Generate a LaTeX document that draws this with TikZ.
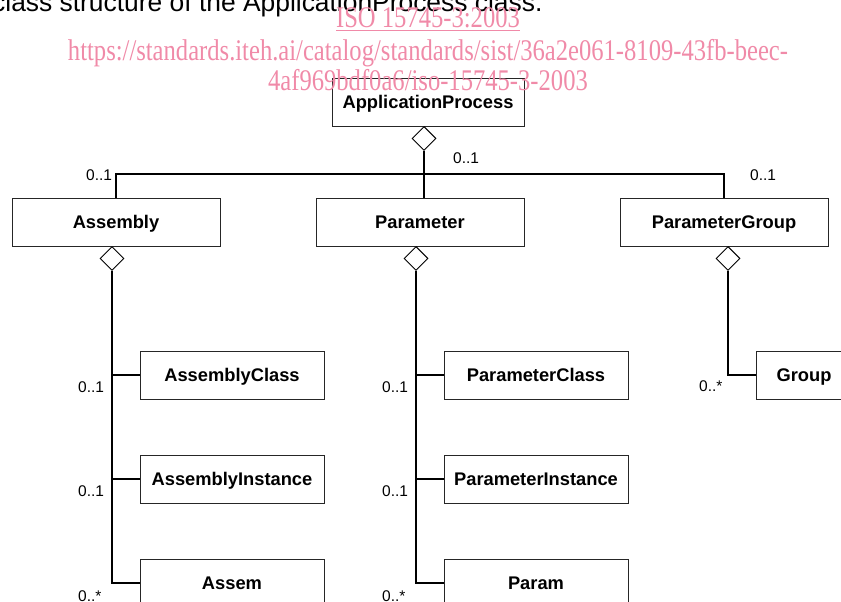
\documentclass[tikz,border=0pt]{standalone}
\usepackage{graphicx}
\usepackage{fontspec}
\setmainfont{Liberation Sans}
\newfontfamily\serifpink{Liberation Serif}
\usetikzlibrary{shapes.geometric}
\definecolor{wmpink}{RGB}{240,138,168}
\begin{document}
\begin{tikzpicture}[x=1pt,y=-1pt,
  cls/.style={draw=black!85, line width=0.9pt, minimum height=48pt, inner sep=0pt,
              text height=13pt, text depth=0pt,
              font=\fontsize{18.3}{20}\selectfont\bfseries},
  agg/.style={diamond, draw=black, line width=0.9pt, aspect=1, minimum width=24pt,
              minimum height=24pt, inner sep=0pt, anchor=north, fill=white},
  conn/.style={line width=1.1pt},
  mult/.style={font=\fontsize{15.5}{17}\selectfont, inner sep=0pt, anchor=base west},
  wm/.style={text=wmpink, inner sep=0pt, anchor=base, font=\serifpink\fontsize{30}{34}\selectfont}]
\clip (0,0) rectangle (841,602);
\useasboundingbox (0,0) rectangle (841,602);

% caption
\node[anchor=base west, inner sep=0pt, font=\fontsize{26.4}{30}\selectfont] (cap) at (-8,12)
  {class structure of the ApplicationProcess class.};

% classes
\node[cls, minimum width=192pt] (ap)  at (428,102) {ApplicationProcess};
\node[cls, minimum width=208pt] (asm) at (116,222) {Assembly};
\node[cls, minimum width=208pt] (par) at (420,222) {Parameter};
\node[cls, minimum width=208pt] (pg)  at (724,222) {ParameterGroup};
\node[cls, minimum width=184pt] (ac)  at (232,375) {AssemblyClass};
\node[cls, minimum width=184pt] (ai)  at (232,479) {AssemblyInstance};
\node[cls, minimum width=184pt] (as)  at (232,583) {Assem};
\node[cls, minimum width=184pt] (pc)  at (536,375) {ParameterClass};
\node[cls, minimum width=184pt] (pi)  at (536,479) {ParameterInstance};
\node[cls, minimum width=184pt] (pp)  at (536,583) {Param};
\node[cls, minimum width=96pt]  (grp) at (804,375) {Group};

% aggregation diamonds
\node[agg] (dap)  at (424,126) {};
\node[agg] (das)  at (112,246) {};
\node[agg] (dpar) at (416,246) {};
\node[agg] (dpg)  at (728,246) {};

% connectors
\coordinate (bus) at (116,174);
\draw[conn] (dap.south) -- (dap.south |- par.north);
\draw[conn] (asm.north) -- (bus) -- (bus -| pg.north) -- (pg.north);
\draw[conn] (das.south) |- (as.west);
\draw[conn] (das.south |- ac.west) -- (ac.west);
\draw[conn] (das.south |- ai.west) -- (ai.west);
\draw[conn] (dpar.south) |- (pp.west);
\draw[conn] (dpar.south |- pc.west) -- (pc.west);
\draw[conn] (dpar.south |- pi.west) -- (pi.west);
\draw[conn] (dpg.south) |- (grp.west);

% multiplicities
\node[mult] (m1)  at (86,180)  {0..1};
\node[mult] (m2)  at (453,163) {0..1};
\node[mult] (m3)  at (750,180) {0..1};
\node[mult] (m4)  at (78,392)  {0..1};
\node[mult] (m5)  at (78,496)  {0..1};
\node[mult] (m6)  at (78,601)  {0..*};
\node[mult] (m7)  at (382,392) {0..1};
\node[mult] (m8)  at (382,496) {0..1};
\node[mult] (m9)  at (382,601) {0..*};
\node[mult] (m10) at (699,391) {0..*};

% watermark
\node[wm] (w1) at (428,28) {\scalebox{0.82}[1]{\underline{ISO 15745-3:2003}}};
\node[wm] (w2) at (428,61) {\scalebox{0.82}[1]{https://standards.iteh.ai/catalog/standards/sist/36a2e061-8109-43fb-beec-}};
\node[wm] (w3) at (428,90) {\scalebox{0.82}[1]{4af969bdf0a6/iso-15745-3-2003}};
\end{tikzpicture}
\end{document}
